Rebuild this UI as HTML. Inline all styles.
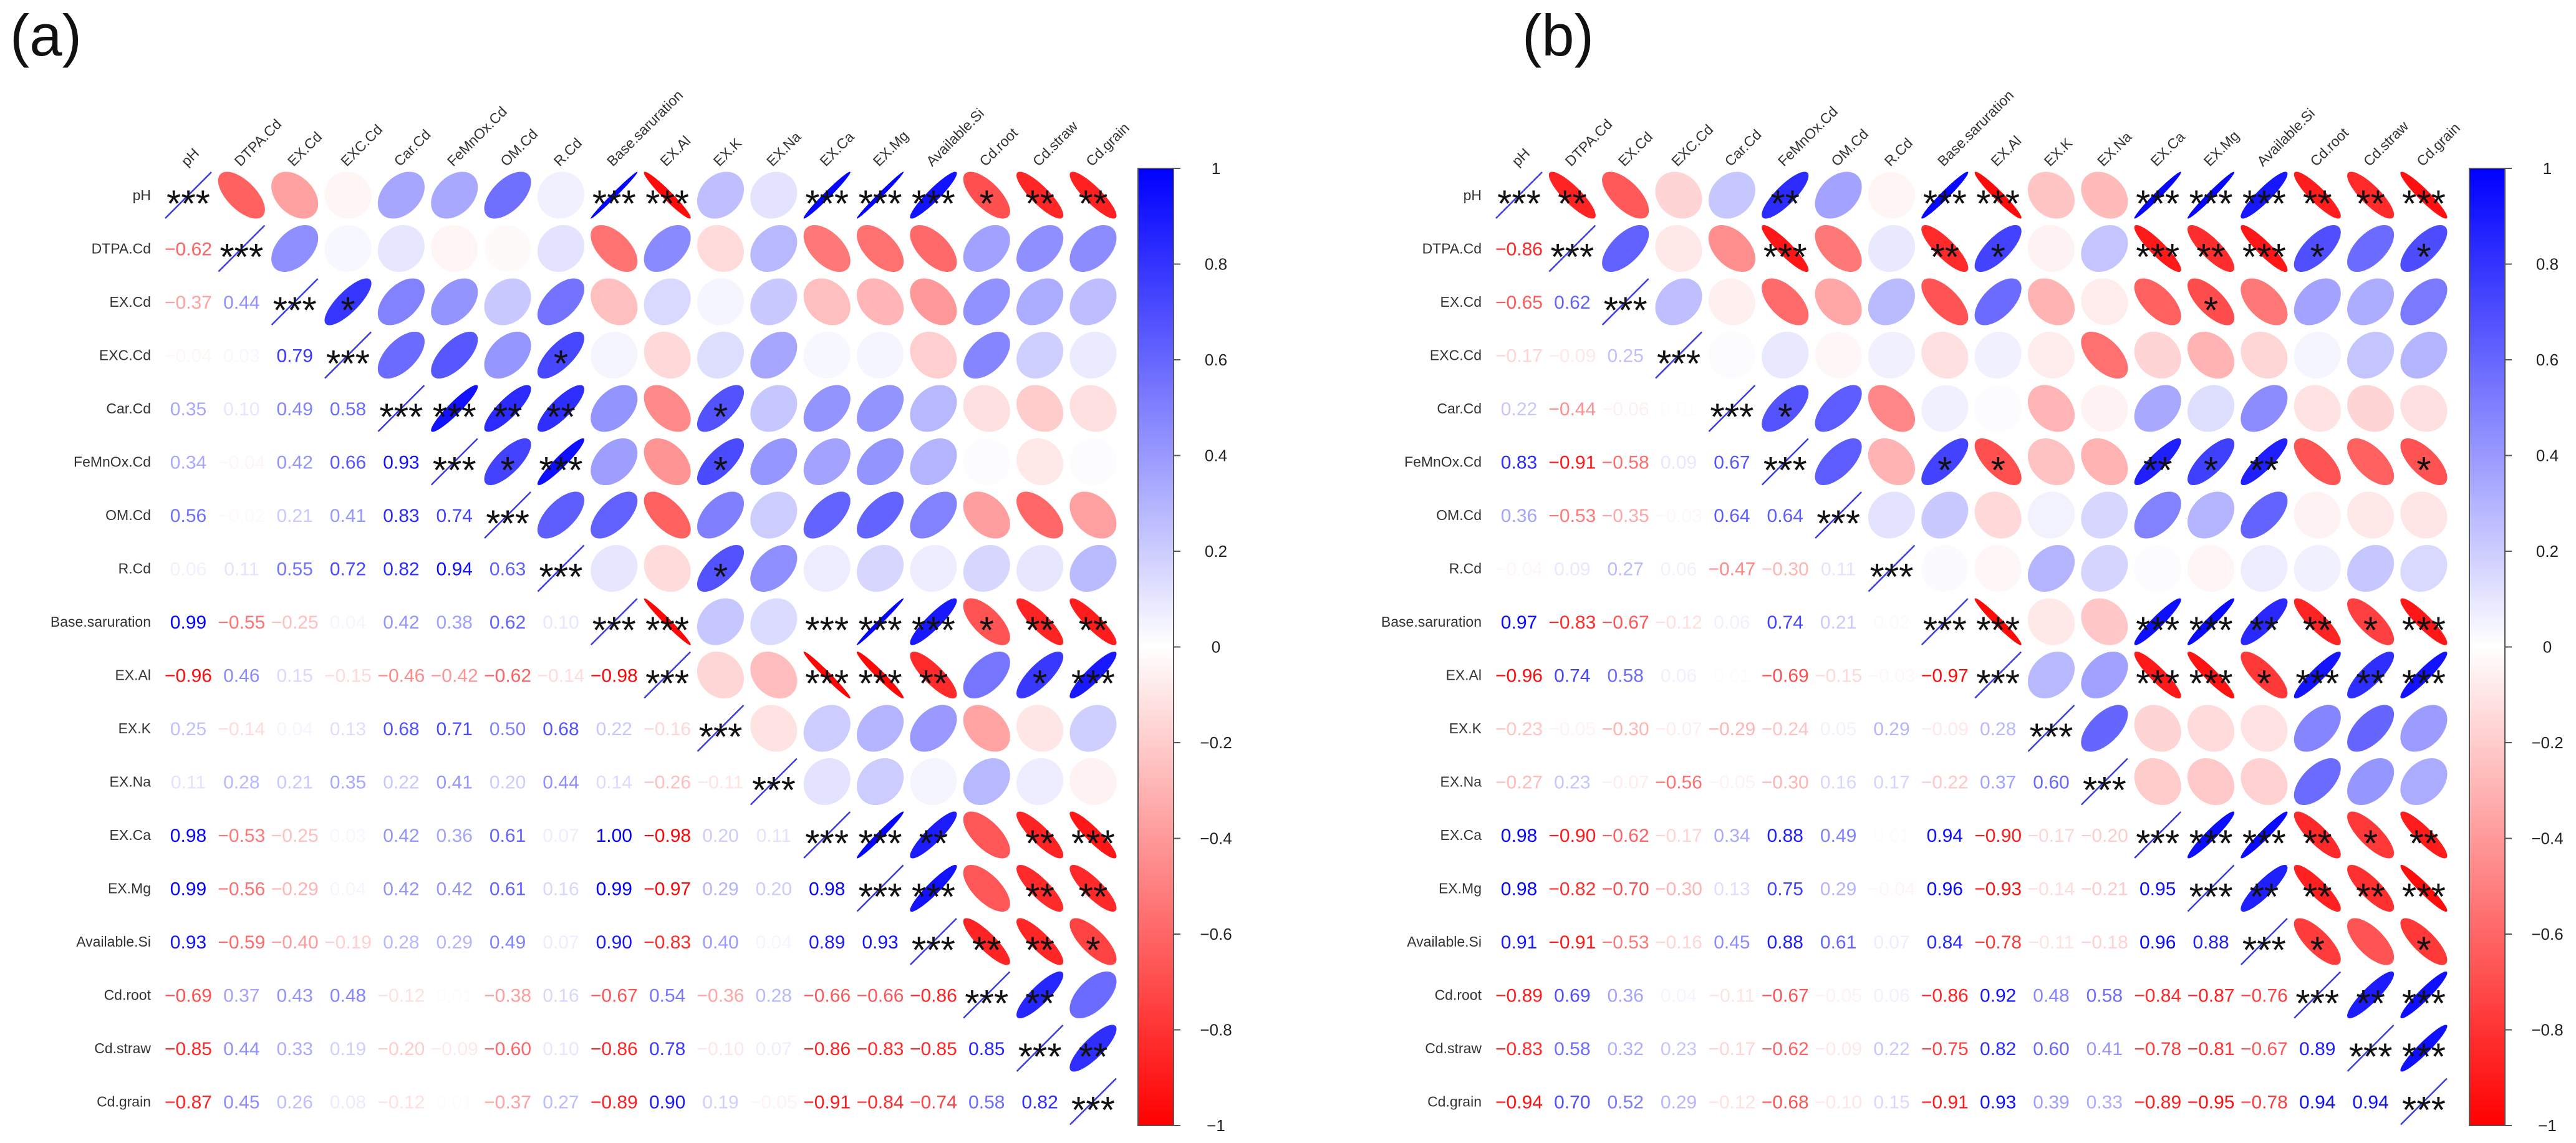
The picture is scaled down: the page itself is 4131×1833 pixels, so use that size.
<!DOCTYPE html>
<html><head><meta charset="utf-8"><style>
html,body{margin:0;padding:0;background:#fff;}
svg{display:block;font-family:"Liberation Sans",Arial,sans-serif;}
</style></head><body>
<svg id="chart" width="4131" height="1833" viewBox="0 0 4131 1833" xmlns="http://www.w3.org/2000/svg"></svg>
<script>
const labels = ["pH","DTPA.Cd","EX.Cd","EXC.Cd","Car.Cd","FeMnOx.Cd","OM.Cd","R.Cd","Base.saruration","EX.Al","EX.K","EX.Na","EX.Ca","EX.Mg","Available.Si","Cd.root","Cd.straw","Cd.grain"];
const colorTicks = [1,0.8,0.6,0.4,0.2,0,-0.2,-0.4,-0.6,-0.8,-1];
const tickLabels = ["1","0.8","0.6","0.4","0.2","0","\u22120.2","\u22120.4","\u22120.6","\u22120.8","\u22121"];
// panel (a) lower triangle correlations
const lowerA = [
[],
[-0.62],
[-0.37,0.44],
[-0.04,0.03,0.79],
[0.35,0.10,0.49,0.58],
[0.34,-0.04,0.42,0.66,0.93],
[0.56,-0.02,0.21,0.41,0.83,0.74],
[0.06,0.11,0.55,0.72,0.82,0.94,0.63],
[0.99,-0.55,-0.25,0.04,0.42,0.38,0.62,0.10],
[-0.96,0.46,0.15,-0.15,-0.46,-0.42,-0.62,-0.14,-0.98],
[0.25,-0.14,0.04,0.13,0.68,0.71,0.50,0.68,0.22,-0.16],
[0.11,0.28,0.21,0.35,0.22,0.41,0.20,0.44,0.14,-0.26,-0.11],
[0.98,-0.53,-0.25,0.03,0.42,0.36,0.61,0.07,1.00,-0.98,0.20,0.11],
[0.99,-0.56,-0.29,0.04,0.42,0.42,0.61,0.16,0.99,-0.97,0.29,0.20,0.98],
[0.93,-0.59,-0.40,-0.19,0.28,0.29,0.49,0.07,0.90,-0.83,0.40,0.04,0.89,0.93],
[-0.69,0.37,0.43,0.48,-0.12,0.01,-0.38,0.16,-0.67,0.54,-0.36,0.28,-0.66,-0.66,-0.86],
[-0.85,0.44,0.33,0.19,-0.20,-0.09,-0.60,0.10,-0.86,0.78,-0.10,0.07,-0.86,-0.83,-0.85,0.85],
[-0.87,0.45,0.26,0.08,-0.12,0.01,-0.37,0.27,-0.89,0.90,0.19,-0.05,-0.91,-0.84,-0.74,0.58,0.82]
];
// panel (a) significance stars (upper triangle, columns i+1..17)
const starsA = [
[0,0,0,0,0,0,0,3,3,0,0,3,3,3,1,2,2],
[0,0,0,0,0,0,0,0,0,0,0,0,0,0,0,0],
[1,0,0,0,0,0,0,0,0,0,0,0,0,0,0],
[0,0,0,1,0,0,0,0,0,0,0,0,0,0],
[3,2,2,0,0,1,0,0,0,0,0,0,0],
[1,3,0,0,1,0,0,0,0,0,0,0],
[0,0,0,0,0,0,0,0,0,0,0],
[0,0,1,0,0,0,0,0,0,0],
[3,0,0,3,3,3,1,2,2],
[0,0,3,3,2,0,1,3],
[0,0,0,0,0,0,0],
[0,0,0,0,0,0],
[3,2,0,2,3],
[3,0,2,2],
[2,2,1],
[2,0],
[2]
];
// panel (b)
const lowerB = [
[],
[-0.86],
[-0.65,0.62],
[-0.17,-0.09,0.25],
[0.22,-0.44,-0.06,0.01],
[0.83,-0.91,-0.58,0.09,0.67],
[0.36,-0.53,-0.35,-0.03,0.64,0.64],
[-0.04,0.09,0.27,0.06,-0.47,-0.30,0.11],
[0.97,-0.83,-0.67,-0.12,0.06,0.74,0.21,0.02],
[-0.96,0.74,0.58,0.06,0.01,-0.69,-0.15,-0.03,-0.97],
[-0.23,-0.05,-0.30,-0.07,-0.29,-0.24,0.05,0.29,-0.09,0.28],
[-0.27,0.23,-0.07,-0.56,-0.05,-0.30,0.16,0.17,-0.22,0.37,0.60],
[0.98,-0.90,-0.62,-0.17,0.34,0.88,0.49,0.01,0.94,-0.90,-0.17,-0.20],
[0.98,-0.82,-0.70,-0.30,0.13,0.75,0.29,-0.04,0.96,-0.93,-0.14,-0.21,0.95],
[0.91,-0.91,-0.53,-0.16,0.45,0.88,0.61,0.07,0.84,-0.78,-0.11,-0.18,0.96,0.88],
[-0.89,0.69,0.36,0.04,-0.11,-0.67,-0.05,0.06,-0.86,0.92,0.48,0.58,-0.84,-0.87,-0.76],
[-0.83,0.58,0.32,0.23,-0.17,-0.62,-0.09,0.22,-0.75,0.82,0.60,0.41,-0.78,-0.81,-0.67,0.89],
[-0.94,0.70,0.52,0.29,-0.12,-0.68,-0.10,0.15,-0.91,0.93,0.39,0.33,-0.89,-0.95,-0.78,0.94,0.94]
];
const starsB = [
[2,0,0,0,2,0,0,3,3,0,0,3,3,3,2,2,3],
[0,0,0,3,0,0,2,1,0,0,3,2,3,1,0,1],
[0,0,0,0,0,0,0,0,0,0,1,0,0,0,0],
[0,0,0,0,0,0,0,0,0,0,0,0,0,0],
[1,0,0,0,0,0,0,0,0,0,0,0,0],
[0,0,1,1,0,0,2,1,2,0,0,1],
[0,0,0,0,0,0,0,0,0,0,0],
[0,0,0,0,0,0,0,0,0,0],
[3,0,0,3,3,2,2,1,3],
[0,0,3,3,1,3,2,3],
[0,0,0,0,0,0,0],
[0,0,0,0,0,0],
[3,3,2,1,2],
[2,2,2,3],
[1,0,1],
[2,3],
[3]
];

const NS = "http://www.w3.org/2000/svg";
const svg = document.getElementById("chart");
const CELL = 85.35, ROWH = 85.5, Y0 = 313;
const CB_TOP = 270, CB_BOT = 1805;
function mk(tag, attrs, parent){ const e=document.createElementNS(NS,tag); for(const k in attrs) e.setAttribute(k,attrs[k]); (parent||svg).appendChild(e); return e; }
function col(r){ r=Math.max(-1,Math.min(1,r)); if(r>=0){const v=Math.round(255*(1-r)); return `rgb(${v},${v},255)`;} const v=Math.round(255*(1+r)); return `rgb(255,${v},${v})`; }
function xScale(x0,j){ return x0 + j*CELL; }
function yScale(i){ return Y0 + i*ROWH; }
function cbY(v){ return CB_TOP + (1 - v)/2*(CB_BOT-CB_TOP); }
function ellipsePath(cx,cy,r){
  const a=Math.acos(Math.max(-1,Math.min(1,r))), s=0.44*CELL; let d="";
  for(let k=0;k<=72;k++){ const t=k/72*2*Math.PI; const x=cx+s*Math.cos(t+a/2), y=cy-s*Math.cos(t-a/2); d+=(k?"L":"M")+x.toFixed(2)+" "+y.toFixed(2); }
  return d+"Z";
}
function fmt(v){ const s=Math.abs(v).toFixed(2); return (v<0?"\u2212":"")+s; }

function drawPanel(id, x0, title, titleX, lower, stars, cbX){
  const g = mk("g",{});
  
  
  const t = mk("text",{x:titleX,y:89,"font-size":94,fill:"#111"},g);
  t.textContent = title;
  
  
  const n = labels.length;
  const val = (i,j)=> i>j ? lower[i][j] : lower[j][i];
  for(let i=0;i<n;i++){
    const cy=yScale(i);
    const rl = mk("text",{x:x0-60,y:cy+8,"font-size":23,"text-anchor":"end",fill:"#333"},g);
    rl.textContent = labels[i];
    
    
    const cx=xScale(x0,i);
    const cl = mk("text",{x:0,y:0,"font-size":23,fill:"#333",transform:`translate(${cx-2},${Y0-45}) rotate(-45)`},g);
    cl.textContent = labels[i];
    
    
  }
  for(let i=0;i<n;i++){
    const cy=yScale(i);
    for(let j=0;j<n;j++){
      const cx=xScale(x0,j);
      if(j<i){
        const v=val(i,j);
        const tx = mk("text",{x:cx,y:cy+11,"font-size":30,"text-anchor":"middle",fill:col(v)},g);
        tx.textContent = fmt(v);
        
        
      } else if(j===i){
        const ln = mk("line",{x1:cx-37,y1:cy+37,x2:cx+37,y2:cy-37,stroke:"#3a3ae0","stroke-width":2.5},g);
        
        
        const st = mk("text",{x:cx,y:cy+34,"font-size":60,"text-anchor":"middle",fill:"#111"},g);
        st.textContent = "***";
        
        
      } else {
        const v=val(i,j);
        const el = mk("path",{d:ellipsePath(cx,cy,v),fill:col(v)},g);
        
        
        const s = stars[i][j-i-1];
        if(s>0){
          const st = mk("text",{x:cx,y:cy+34,"font-size":60,"text-anchor":"middle",fill:"#111"},g);
          st.textContent = "*".repeat(s);
          
          
        }
      }
    }
  }
  // colorbar
  const gid = id+"-grad";
  const defs = mk("defs",{},g);
  const lg = mk("linearGradient",{id:gid,x1:0,y1:0,x2:0,y2:1},defs);
  for(let k=0;k<=20;k++){ const v=1-k/10; mk("stop",{offset:(k/20),"stop-color":col(v)},lg); }
  const bar = mk("rect",{x:cbX,y:CB_TOP,width:57,height:CB_BOT-CB_TOP,fill:`url(#${gid})`,stroke:"#555","stroke-width":2},g);
  
  
  colorTicks.forEach((v,k)=>{
    const y=cbY(v);
    const tk = mk("line",{x1:cbX+57,y1:y,x2:cbX+68,y2:y,stroke:"#555","stroke-width":2},g);
    
    
    const tl = mk("text",{x:cbX+125,y:y+9,"font-size":26,"text-anchor":"middle",fill:"#222"},g);
    tl.textContent = tickLabels[k];
    
    
  });
}
drawPanel("panel-a", 302, "(a)", 16, lowerA, starsA, 1825);
drawPanel("panel-b", 2436, "(b)", 2441, lowerB, starsB, 3960);
</script>
</body></html>
